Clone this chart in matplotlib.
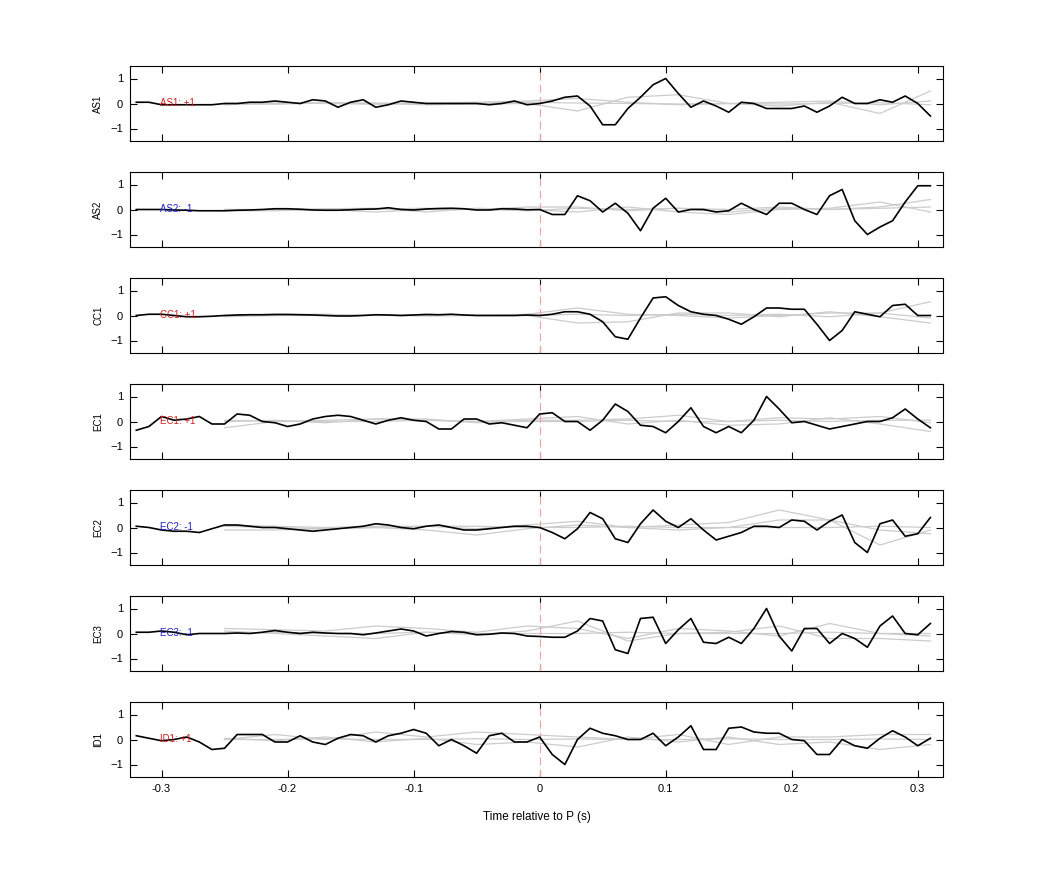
import matplotlib
matplotlib.use('Agg')
import matplotlib.pyplot as plt
import numpy as np

plt.rcParams['font.family'] = ['Liberation Sans', 'DejaVu Sans']

t = np.round(np.arange(-0.32, 0.315, 0.01), 2)
tg = np.round(np.arange(-0.25, 0.335, 0.04), 2)

stations = ['AS1', 'AS2', 'CC1', 'EC1', 'EC2', 'EC3', 'ID1']
polarity = [+1, -1, +1, +1, -1, -1, +1]

black = {
    'AS1': [0.05, 0.05, -0.05, -0.05, -0.05, -0.05, -0.05, 0, 0, 0.05, 0.05, 0.1, 0.05, 0, 0.15, 0.1,
            -0.15, 0.05, 0.15, -0.15, -0.05, 0.1, 0.05, 0, 0, 0, 0, 0, -0.05, 0, 0.1, -0.05,
            0, 0.1, 0.25, 0.3, -0.1, -0.85, -0.85, -0.2, 0.25, 0.75, 1.0, 0.4, -0.15, 0.1, -0.1, -0.35,
            0.05, 0.0, -0.2, -0.2, -0.2, -0.1, -0.35, -0.1, 0.25, 0, 0, 0.15, 0.05, 0.3, 0, -0.5],
    'AS2': [0, 0, 0, -0.02, -0.03, -0.05, -0.05, -0.05, -0.03, -0.02, 0, 0.03, 0.03, 0.01, -0.02, -0.03,
            -0.03, -0.01, 0.01, 0.02, 0.07, 0, -0.02, 0.02, 0.04, 0.05, 0.03, -0.02, -0.02, 0.03, 0.02, -0.01,
            0, -0.2, -0.2, 0.55, 0.35, -0.1, 0.25, -0.15, -0.85, 0.05, 0.45, -0.1, 0, 0, -0.1, -0.05,
            0.25, 0, -0.2, 0.25, 0.25, 0, -0.2, 0.55, 0.8, -0.45, -1.0, -0.7, -0.45, 0.3, 0.95, 0.95],
    'CC1': [0, 0.05, 0.05, 0, -0.05, -0.05, -0.03, 0, 0.02, 0.03, 0.03, 0.04, 0.04, 0.03, 0.02, 0,
            -0.02, -0.02, 0, 0.03, 0.02, 0, 0.02, 0.04, 0.03, 0.05, 0.02, 0, 0, 0, 0, 0.02,
            0, 0.05, 0.15, 0.15, 0.05, -0.25, -0.85, -0.95, -0.1, 0.7, 0.75, 0.4, 0.15, 0.05, 0, -0.15,
            -0.35, -0.05, 0.3, 0.3, 0.25, 0.25, -0.35, -1.0, -0.6, 0.15, 0.05, -0.05, 0.4, 0.45, 0, 0],
    'EC1': [-0.35, -0.2, 0.2, 0.05, 0.1, 0.2, -0.1, -0.1, 0.3, 0.25, 0, -0.05, -0.2, -0.1, 0.1, 0.2,
            0.25, 0.2, 0.05, -0.1, 0.05, 0.15, 0.05, 0, -0.3, -0.3, 0.1, 0.1, -0.1, -0.05, -0.15, -0.25,
            0.3, 0.35, 0, 0, -0.35, 0.05, 0.7, 0.4, -0.15, -0.2, -0.45, 0, 0.55, -0.2, -0.45, -0.2,
            -0.45, 0.05, 1.0, 0.5, -0.05, 0, -0.15, -0.3, -0.2, -0.1, 0, 0, 0.15, 0.5, 0.1, -0.25],
    'EC2': [0.05, 0, -0.1, -0.15, -0.15, -0.2, -0.05, 0.1, 0.1, 0.05, 0, 0, -0.05, -0.1, -0.15, -0.1,
            -0.05, 0, 0.05, 0.15, 0.1, 0, -0.05, 0.05, 0.1, 0, -0.1, -0.1, -0.05, 0, 0.05, 0.05,
            0, -0.2, -0.45, -0.05, 0.6, 0.35, -0.45, -0.6, 0.15, 0.7, 0.25, 0, 0.35, -0.1, -0.5, -0.35,
            -0.2, 0.05, 0.05, 0, 0.3, 0.25, -0.1, 0.25, 0.5, -0.6, -1.0, 0.15, 0.3, -0.35, -0.25, 0.4],
    'EC3': [0.05, 0.05, 0.1, 0.05, -0.05, 0, 0, 0, 0.02, 0, 0.05, 0.12, 0.05, 0, 0.05, 0.02,
            0, 0, -0.05, 0.02, 0.1, 0.18, 0.1, -0.1, 0, 0.08, 0.05, -0.05, -0.03, 0.02, 0, -0.1,
            -0.12, -0.15, -0.15, 0.1, 0.6, 0.5, -0.65, -0.8, 0.6, 0.65, -0.4, 0.15, 0.6, -0.35, -0.4, -0.15,
            -0.4, 0.2, 1.0, -0.1, -0.7, 0.2, 0.2, -0.4, 0, -0.2, -0.55, 0.3, 0.7, 0, -0.05, 0.4],
    'ID1': [0.15, 0.05, -0.05, 0.0, 0.1, -0.1, -0.4, -0.35, 0.2, 0.2, 0.2, -0.1, -0.1, 0.15, -0.1, -0.2,
            0.05, 0.2, 0.15, -0.1, 0.15, 0.25, 0.4, 0.25, -0.25, 0, -0.25, -0.55, 0.15, 0.25, -0.1, -0.1,
            0.1, -0.6, -1.0, 0, 0.45, 0.25, 0.15, 0, 0, 0.25, -0.25, 0.1, 0.55, -0.4, -0.4, 0.45,
            0.5, 0.3, 0.25, 0.25, 0, -0.05, -0.6, -0.6, 0, -0.25, -0.35, 0.05, 0.35, 0.1, -0.25, 0.05],
}

# smoother template traces drawn in grey
grey = {
    'AS1': [[0, 0.02, 0, -0.03, 0.02, 0.05, 0.1, 0.2, 0.05, -0.05, 0, 0.05, 0.1, -0.05, 0.1],
            [0, -0.03, 0.02, 0, -0.05, -0.02, 0, -0.3, 0.25, 0.35, 0, -0.1, 0.05, -0.4, 0.5],
            [-0.05, 0, 0.03, 0.02, 0, 0.02, 0.05, 0.02, 0, -0.02, 0, -0.02, 0, 0.03, -0.05]],
    'AS2': [[-0.05, -0.05, 0, -0.1, 0, 0, 0.1, 0.1, -0.05, 0.05, -0.1, 0.05, 0, 0.1, 0.4],
            [0, 0, 0.03, 0.05, -0.1, 0.05, 0, -0.1, 0.1, -0.1, -0.2, 0, 0.05, 0.3, -0.1],
            [0, -0.02, 0, 0.02, 0.05, 0, -0.05, 0.05, 0, 0.05, 0, 0.1, 0, 0.05, 0.1]],
    'CC1': [[0, 0.05, 0.05, 0, 0.05, 0, 0.05, 0.3, 0.05, 0, -0.1, 0, 0.1, 0.1, 0.55],
            [-0.05, 0, 0, 0.02, -0.02, 0, 0, -0.3, -0.25, 0.1, 0.1, -0.05, 0.15, -0.05, -0.3],
            [0, 0, 0.02, 0, 0, 0.02, 0, 0.05, 0, 0.05, 0, 0.05, -0.05, 0.1, -0.1]],
    'EC1': [[-0.25, 0, 0.05, 0.1, 0.1, -0.05, 0.05, 0.05, 0.1, 0.25, 0, 0.15, 0.1, 0.2, -0.05],
            [0, 0.05, -0.05, 0.1, 0.05, 0, 0.1, 0.2, -0.1, 0.05, -0.15, -0.1, 0.15, -0.1, -0.4],
            [0.05, 0, 0, 0, 0.05, 0, 0, 0, 0.05, 0, 0, 0.05, 0, 0.05, 0.05]],
    'EC2': [[0.05, 0, -0.05, 0, 0.05, -0.05, 0.1, 0.25, 0, 0.1, 0.2, 0.7, 0.3, -0.7, -0.1],
            [-0.1, -0.1, -0.05, 0, -0.1, -0.3, -0.05, 0.1, 0, -0.1, 0, 0.3, 0.3, -0.1, -0.25],
            [0.1, 0.05, 0, 0.05, 0.05, 0.05, 0, 0, 0.05, 0, 0, 0, 0, 0.05, 0]],
    'EC3': [[0.2, 0.15, 0.1, 0.3, 0.2, 0.05, 0.3, 0.2, -0.2, 0.2, 0.1, -0.1, 0.4, 0, -0.1],
            [0.1, 0, -0.1, -0.2, 0.05, -0.05, 0.1, 0.5, -0.3, 0, 0.05, 0.3, -0.2, -0.2, -0.3],
            [0, 0.05, 0, 0, 0.05, 0, 0, 0, 0.05, 0, 0, 0, 0.05, 0, 0]],
    'ID1': [[0, 0.2, 0, 0.3, 0.1, 0.3, 0.2, 0.1, 0, 0.2, -0.2, 0.1, 0.1, 0.2, 0.2],
            [0.05, -0.05, 0.1, -0.1, 0.05, -0.2, -0.1, -0.3, 0.1, -0.1, 0.1, -0.2, -0.1, -0.4, -0.2],
            [0, 0, 0.03, 0, 0, 0.03, 0, 0.02, 0, 0, 0.03, 0, 0, 0.02, 0]],
}

fig = plt.figure(figsize=(10.42, 8.75), dpi=100)
left, width = 130 / 1042, 813 / 1042
h = 75 / 875
axes = []
for i, st in enumerate(stations):
    bottom = 1 - (141 + 106 * i) / 875
    ax = fig.add_axes([left, bottom, width, h])
    axes.append(ax)
    for g in grey[st]:
        ax.plot(tg, g, color='#cccccc', lw=0.9)
    ax.axvline(0, color='#f0a0a0', lw=0.8, dashes=(7, 4))
    ax.plot(t, black[st], color='k', lw=1.2)
    col = '#d62020' if polarity[i] > 0 else '#2020c8'
    ax.text(-0.301, 0, f'{st}: {polarity[i]:+d}', color=col, fontsize=7, va='center', ha='left')
    ax.set_xlim(-0.325, 0.32)
    ax.set_ylim(-1.5, 1.5)
    ax.set_yticks([-1, 0, 1])
    ax.set_xticks([-0.3, -0.2, -0.1, 0, 0.1, 0.2, 0.3])
    ax.tick_params(direction='in', top=True, right=True, labelsize=8, length=5, width=0.8, pad=5)
    ax.set_ylabel(st, fontsize=7)
    ax.yaxis.set_label_coords(-0.033, 0.5)
    if i < len(stations) - 1:
        ax.set_xticklabels([])
    for s in ax.spines.values():
        s.set_linewidth(0.8)

axes[-1].set_xticklabels(['-0.3', '-0.2', '-0.1', '0', '0.1', '0.2', '0.3'])
axes[-1].set_xlabel('Time relative to P (s)', fontsize=8.5, labelpad=12)
fig.savefig('out.png', dpi=100)
